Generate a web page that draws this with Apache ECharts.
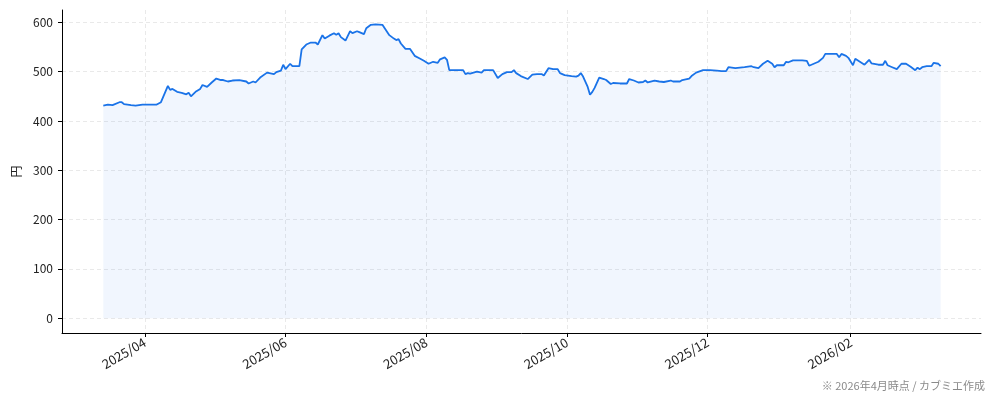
<!DOCTYPE html>
<html>
<head>
<meta charset="utf-8">
<script src="https://cdn.jsdelivr.net/npm/echarts@6/dist/echarts.min.js"></script>
<style>
  html, body { margin: 0; padding: 0; background: #fff; }
  #chart { width: 994px; height: 401px; }
</style>
</head>
<body>
<div id="chart"></div>
<script>
// Daily close (円)
const dates = [
    '2025-03-14', '2025-03-16', '2025-03-18', '2025-03-21', '2025-03-22', '2025-03-23', '2025-03-26', '2025-03-28', '2025-03-31',
    '2025-04-03', '2025-04-06', '2025-04-08', '2025-04-11', '2025-04-12', '2025-04-13', '2025-04-15', '2025-04-17', '2025-04-19',
    '2025-04-20', '2025-04-21', '2025-04-23', '2025-04-25', '2025-04-26', '2025-04-28', '2025-04-30',
    '2025-05-02', '2025-05-04', '2025-05-05', '2025-05-07', '2025-05-09', '2025-05-12', '2025-05-15', '2025-05-16', '2025-05-18',
    '2025-05-19', '2025-05-21', '2025-05-24', '2025-05-25', '2025-05-27', '2025-05-28', '2025-05-30', '2025-05-31',
    '2025-06-01', '2025-06-03', '2025-06-04', '2025-06-07', '2025-06-08', '2025-06-10', '2025-06-12', '2025-06-14', '2025-06-15',
    '2025-06-17', '2025-06-18', '2025-06-20', '2025-06-22', '2025-06-23', '2025-06-24', '2025-06-25', '2025-06-27', '2025-06-29',
    '2025-06-30', '2025-07-02', '2025-07-03', '2025-07-05', '2025-07-06', '2025-07-08', '2025-07-10', '2025-07-13', '2025-07-14',
    '2025-07-16', '2025-07-18', '2025-07-19', '2025-07-20', '2025-07-21', '2025-07-23', '2025-07-25', '2025-07-27', '2025-07-29',
    '2025-07-31', '2025-08-02', '2025-08-04', '2025-08-06', '2025-08-07', '2025-08-09', '2025-08-10', '2025-08-11', '2025-08-14',
    '2025-08-17', '2025-08-18', '2025-08-19', '2025-08-20', '2025-08-23', '2025-08-25', '2025-08-26', '2025-08-30',
    '2025-09-01', '2025-09-03', '2025-09-05', '2025-09-07', '2025-09-08', '2025-09-09', '2025-09-11', '2025-09-14', '2025-09-16',
    '2025-09-18', '2025-09-20', '2025-09-21', '2025-09-23', '2025-09-25', '2025-09-27', '2025-09-28', '2025-09-30',
    '2025-10-03', '2025-10-05', '2025-10-06', '2025-10-07', '2025-10-08', '2025-10-10', '2025-10-11', '2025-10-12', '2025-10-13',
    '2025-10-15', '2025-10-17', '2025-10-18', '2025-10-20', '2025-10-21', '2025-10-24', '2025-10-27', '2025-10-28', '2025-10-30',
    '2025-11-01', '2025-11-03', '2025-11-04', '2025-11-05', '2025-11-08', '2025-11-10', '2025-11-12', '2025-11-15', '2025-11-16',
    '2025-11-19', '2025-11-20', '2025-11-23', '2025-11-24', '2025-11-26', '2025-11-29',
    '2025-12-02', '2025-12-05', '2025-12-07', '2025-12-09', '2025-12-10', '2025-12-13', '2025-12-17', '2025-12-20', '2025-12-21',
    '2025-12-23', '2025-12-25', '2025-12-27', '2025-12-29', '2025-12-30', '2025-12-31',
    '2026-01-03', '2026-01-04', '2026-01-05', '2026-01-07', '2026-01-09', '2026-01-11', '2026-01-13', '2026-01-14', '2026-01-16',
    '2026-01-18', '2026-01-20', '2026-01-21', '2026-01-23', '2026-01-26', '2026-01-27', '2026-01-28', '2026-01-30', '2026-01-31',
    '2026-02-02', '2026-02-03', '2026-02-05', '2026-02-07', '2026-02-09', '2026-02-10', '2026-02-13', '2026-02-15', '2026-02-16',
    '2026-02-17', '2026-02-19', '2026-02-21', '2026-02-23', '2026-02-25', '2026-02-27',
    '2026-03-01', '2026-03-02', '2026-03-03', '2026-03-04', '2026-03-06', '2026-03-08', '2026-03-09', '2026-03-11', '2026-03-12'
];
const prices = [
    431, 433, 432, 438, 438, 434, 432, 431, 433,
    433, 433, 438, 471, 463, 465, 459, 457, 454,
    457, 450, 459, 465, 473, 469, 478,
    486, 483, 483, 480, 482, 483, 480, 476, 480,
    478, 488, 498, 497, 495, 499, 502, 514,
    505, 516, 511, 511, 545, 555, 559, 559, 555,
    574, 567, 573, 578, 575, 578, 570, 563, 582,
    578, 582, 580, 576, 588, 595, 596, 595, 588,
    574, 567, 564, 566, 557, 546, 546, 532, 527,
    522, 516, 520, 518, 525, 529, 524, 503, 503,
    503, 495, 497, 496, 500, 498, 503, 503,
    487, 495, 499, 499, 503, 497, 491, 485, 494,
    495, 495, 492, 507, 505, 505, 497, 493,
    491, 490, 492, 497, 490, 469, 453, 459, 467,
    488, 485, 483, 475, 477, 476, 476, 485, 482,
    478, 479, 482, 478, 482, 480, 479, 482, 480,
    480, 483, 486, 491, 498, 503,
    503, 502, 501, 501, 509, 507, 509, 511, 509,
    507, 516, 522, 516, 509, 513,
    513, 520, 519, 523, 523, 523, 522, 512, 516,
    520, 528, 536, 536, 536, 529, 536, 532, 528,
    513, 526, 520, 514, 524, 517, 514, 514, 522,
    513, 509, 505, 516, 516, 510,
    503, 508, 505, 509, 511, 511, 518, 516, 511
];
const monthTicks = ['2025-04-01', '2025-06-01', '2025-08-01', '2025-10-01', '2025-12-01', '2026-02-01'];
const yTicks = [0, 100, 200, 300, 400, 500, 600];

const FONT_FAMILY = '"Noto Sans CJK JP", "Noto Sans", sans-serif';
const LINE_COLOR = '#1a73e8';
const GRID_LINE = { show: true, lineStyle: { color: '#e3e3e3', width: 0.8, type: [4, 3] } };

const toTime = s => echarts.time.parse(s).getTime();
const DAY = 86400000;
const apr1 = toTime('2025-04-01');

const chart = echarts.init(document.getElementById('chart'), null, { renderer: 'canvas' });
chart.setOption({
    animation: false,
    textStyle: { fontFamily: FONT_FAMILY },
    grid: { left: 62, right: 13, top: 10, bottom: 68, containLabel: false },
    xAxis: {
        // dates as timestamps on a value axis so the month ticks can be placed exactly
        type: 'value',
        scale: true,
        min: apr1 - 35.9 * DAY,
        max: apr1 + 362.5 * DAY,
        axisLine: { onZero: false, lineStyle: { color: '#000', width: 1 } },
        axisTick: { show: true, length: 4, lineStyle: { color: '#000' }, customValues: monthTicks.map(toTime) },
        axisLabel: {
            customValues: monthTicks.map(toTime),
            rotate: 30,
            margin: 8,
            fontSize: 13,
            color: '#222',
            formatter: v => echarts.time.format(v, '{yyyy}/{MM}', false)
        },
        splitLine: GRID_LINE
    },
    yAxis: {
        type: 'value',
        min: -30,
        max: 625,
        name: '円',
        nameLocation: 'middle',
        nameGap: 39,
        nameTextStyle: { fontSize: 12, color: '#222' },
        axisLine: { show: true, lineStyle: { color: '#000', width: 1 } },
        axisTick: { show: true, length: 4, lineStyle: { color: '#000' }, customValues: yTicks },
        axisLabel: { customValues: yTicks, margin: 9, fontSize: 12, color: '#222' },
        splitLine: GRID_LINE
    },
    series: [{
        name: '株価',
        type: 'line',
        data: dates.map((d, i) => [toTime(d), prices[i]]),
        showSymbol: false,
        smooth: false,
        lineStyle: { color: LINE_COLOR, width: 1.8 },
        areaStyle: { color: 'rgba(26,115,232,0.09)', origin: 'auto' },
        silent: true
    }],
    graphic: [{
        type: 'text',
        right: 9,
        bottom: 10,
        style: {
            text: '※ 2026年4月時点 / カブミエ作成',
            fill: '#8a8a8a',
            fontSize: 11,
            fontFamily: FONT_FAMILY
        }
    }]
});
</script>
</body>
</html>
